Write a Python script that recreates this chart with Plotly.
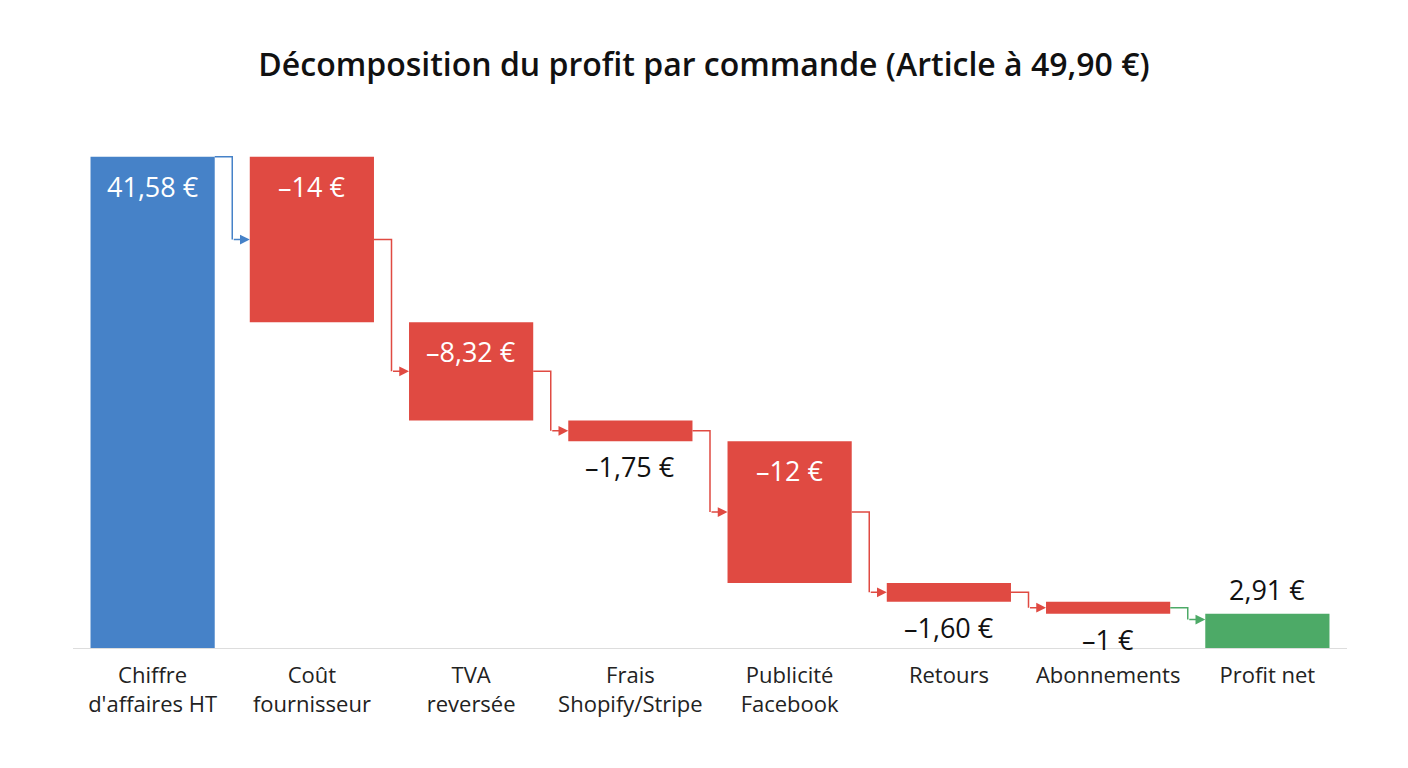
import plotly.graph_objects as go

# ---- data ----
categories = ["Chiffre<br>d'affaires HT", "Coût<br>fournisseur", "TVA<br>reversée",
              "Frais<br>Shopify/Stripe", "Publicité<br>Facebook", "Retours",
              "Abonnements", "Profit net"]
measures = ["absolute", "relative", "relative", "relative", "relative", "relative", "relative", "total"]
values = [41.58, -14, -8.32, -1.75, -12, -1.60, -1, 2.91]
value_labels = ["41,58 €", "–14 €", "–8,32 €", "–1,75 €", "–12 €", "–1,60 €", "–1 €", "2,91 €"]
title_text = "Décomposition du profit par commande (Article à 49,90 €)"

# ---- style ----
BLUE = "#4682C8"
RED = "#E04A42"
GREEN = "#4DAA67"
FONT = "Open Sans"
BAR_W = 0.78

bases, heights, colors = [], [], []
running = 0.0
for v, m in zip(values, measures):
    if m == "absolute":
        bases.append(0); heights.append(v); running = v; colors.append(BLUE)
    elif m == "relative":
        bases.append(running); heights.append(v); running += v; colors.append(RED)
    else:
        bases.append(0); heights.append(v); colors.append(GREEN)

xs = list(range(len(categories)))
tops = [max(b, b + h) for b, h in zip(bases, heights)]
bots = [min(b, b + h) for b, h in zip(bases, heights)]
mids = [(t + b) / 2 for t, b in zip(tops, bots)]

fig = go.Figure()
fig.add_trace(go.Bar(
    x=xs, y=heights, base=bases, width=BAR_W,
    marker=dict(color=colors, line=dict(width=0)),
    hoverinfo="skip", showlegend=False,
))

annotations = []
shapes = []

# value labels
for i, (m, v, lab) in enumerate(zip(measures, values, value_labels)):
    if m == "total":
        annotations.append(dict(x=xs[i], y=tops[i], xref="x", yref="y", text=lab,
                                showarrow=False, yanchor="bottom", yshift=4,
                                font=dict(family=FONT, size=27, color="#111111")))
    elif abs(v) > 5:
        annotations.append(dict(x=xs[i], y=tops[i], xref="x", yref="y", text=lab,
                                showarrow=False, yanchor="top", yshift=-9,
                                font=dict(family=FONT, size=27, color="#ffffff")))
    else:
        annotations.append(dict(x=xs[i], y=bots[i], xref="x", yref="y", text=lab,
                                showarrow=False, yanchor="top", yshift=-5,
                                font=dict(family=FONT, size=27, color="#111111")))

# elbow connectors with arrows
for i in range(len(xs) - 1):
    start_y = tops[i] if measures[i] == "absolute" else mids[i]
    end_y = tops[i + 1] - 0.5 if measures[i + 1] == "total" else mids[i + 1]
    if measures[i] == "absolute":
        c = BLUE
    elif measures[i + 1] == "total":
        c = GREEN
    else:
        c = RED
    xr = xs[i] + BAR_W / 2
    xg = xs[i] + 0.5
    xl = xs[i + 1] - BAR_W / 2
    shapes.append(dict(type="path", xref="x", yref="y",
                       path=f"M {xr},{start_y} L {xg},{start_y} L {xg},{end_y}",
                       line=dict(color=c, width=1.5)))
    annotations.append(dict(x=xl, y=end_y, ax=xg, ay=end_y, xref="x", yref="y",
                            axref="x", ayref="y", text="", showarrow=True,
                            arrowhead=2, arrowsize=1.3, arrowwidth=1.5,
                            arrowcolor=c, standoff=0, startstandoff=0))

W, H = 1392, 752  # page adds an 8px body margin
fig.update_layout(
    width=W, height=H,
    paper_bgcolor="white", plot_bgcolor="white",
    margin=dict(l=65, r=53, t=112, b=112),
    title=dict(text=title_text, x=0.5, xref="container", xanchor="center",
               y=1 - 57 / H, yref="container", yanchor="middle",
               font=dict(family=FONT, size=32, color="#111111", weight=600)),
    xaxis=dict(range=[-0.5, 7.5], tickvals=xs, ticktext=categories,
               showgrid=False, zeroline=False, showline=True,
               linecolor="#dddddd", linewidth=1, ticks="",
               ticklabelstandoff=8,
               tickfont=dict(family=FONT, size=22, color="#222222")),
    yaxis=dict(range=[0, 44.7], visible=False, showgrid=False, zeroline=False),
    annotations=annotations,
    shapes=shapes,
    bargap=0.22,
)

fig.write_html("out.html")
